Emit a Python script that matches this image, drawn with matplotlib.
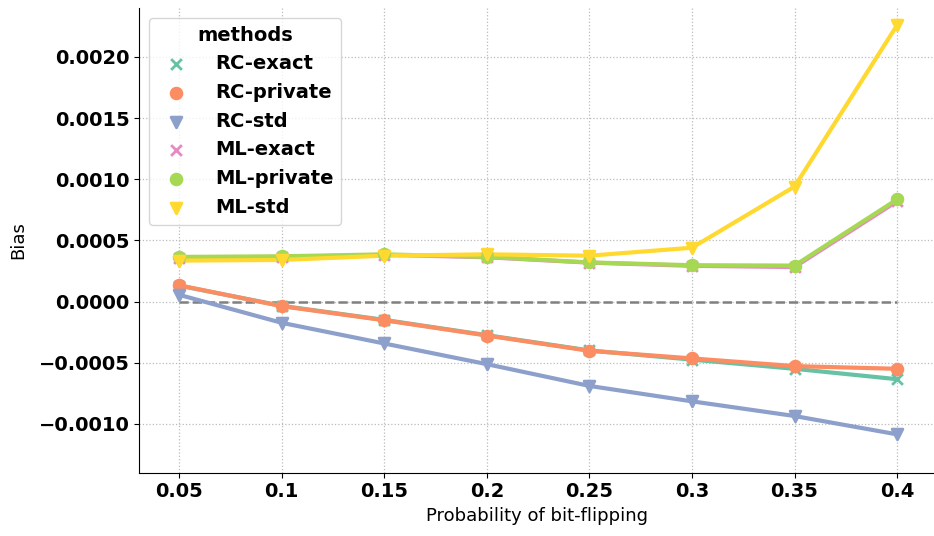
import matplotlib

matplotlib.use("Agg")
import matplotlib.pyplot as plt
import seaborn as sns

probs = ["0.05", "0.1", "0.15", "0.2", "0.25", "0.3", "0.35", "0.4"]
methods = ["RC-exact", "RC-private", "RC-std", "ML-exact", "ML-private", "ML-std"]

rc_exact = [0.000130, -0.000035, -0.000150, -0.000275, -0.000400, -0.000475, -0.000550, -0.000635]
rc_private = [0.000133, -0.000038, -0.000153, -0.000278, -0.000403, -0.000465, -0.000528, -0.000550]
rc_std = [0.000055, -0.000174, -0.000343, -0.000512, -0.000690, -0.000816, -0.000936, -0.001086]
ml_exact = [0.000360, 0.000365, 0.000382, 0.000362, 0.000318, 0.000292, 0.000282, 0.000820]
ml_private = [0.000365, 0.000370, 0.000386, 0.000365, 0.000320, 0.000297, 0.000294, 0.000835]
ml_std = [0.000335, 0.000340, 0.000375, 0.000386, 0.000375, 0.000440, 0.000940, 0.002260]

series = [rc_exact, rc_private, rc_std, ml_exact, ml_private, ml_std]
markers = ["x", "o", "v", "x", "o", "v"]
colors = sns.color_palette("Set2", 6)

fig, ax = plt.subplots(figsize=(9.34, 5.36), dpi=100)
fig.subplots_adjust(left=0.149, right=1.0, top=0.985, bottom=0.118)

xs = list(range(len(probs)))
ax.plot([xs[0], xs[-1]], [0, 0], color="gray", linestyle="--", linewidth=1.8, zorder=1)

for name, vals, m, c in zip(methods, series, markers, colors):
    ax.plot(xs, vals, color=c, linewidth=3, zorder=2)
    ax.scatter(xs, vals, color=c, marker=m, s=60, linewidths=2, zorder=3, label=name)

ax.set_xticks(xs)
ax.set_xticklabels(probs)
ax.set_xlim(-0.39, 7.36)
ax.set_ylim(-0.0014, 0.0024)
ax.set_yticks([-0.001, -0.0005, 0.0, 0.0005, 0.001, 0.0015, 0.002])
ax.set_yticklabels(["\u22120.0010", "\u22120.0005", "0.0000", "0.0005", "0.0010", "0.0015", "0.0020"])
for lab in ax.get_xticklabels() + ax.get_yticklabels():
    lab.set_fontsize(14)
    lab.set_fontweight("bold")

ax.set_xlabel("Probability of bit-flipping", fontsize=13)
ax.set_ylabel("Bias", fontsize=13, labelpad=8)
ax.grid(True, linestyle=":", color="#bbbbbb", linewidth=0.9)
ax.set_axisbelow(True)
ax.spines["top"].set_visible(False)
ax.spines["right"].set_visible(False)

leg = ax.legend(title="methods", loc="upper left", prop={"size": 14, "weight": "bold"},
                title_fontproperties={"size": 14, "weight": "bold"},
                handletextpad=1.0, borderaxespad=0.5)

fig.savefig("out.png", dpi=100)
